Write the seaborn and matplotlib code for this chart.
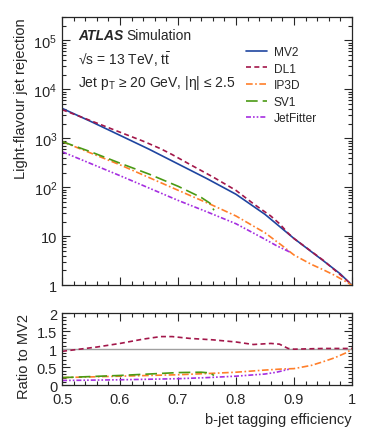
import matplotlib

matplotlib.use("Agg")
import matplotlib.pyplot as plt
import matplotlib.ticker as mticker
import numpy as np
import pandas as pd
import seaborn as sns

# light-jet rejection of the reference tagger
mv2_eff = [0.5, 0.55, 0.6, 0.65, 0.7, 0.75, 0.8, 0.85, 0.9, 0.95, 0.98, 1.0]
mv2_rej = [4100, 2200, 1150, 600, 300, 150, 72, 28, 9.0, 3.2, 1.7, 1.0]

# ratios to MV2
dl1_eff = [0.5, 0.53, 0.56, 0.6, 0.64, 0.67, 0.69, 0.72, 0.76, 0.8, 0.83, 0.86, 0.875, 0.89, 0.9, 0.95, 1.0]
dl1_ratio = [0.94, 1.0, 1.06, 1.16, 1.28, 1.35, 1.35, 1.30, 1.26, 1.2, 1.13, 1.16, 1.14, 1.02, 1.0, 1.02, 1.02]

ip3d_eff = [0.5, 0.6, 0.7, 0.76, 0.8, 0.85, 0.88, 0.9, 0.93, 0.95, 0.97, 0.99, 1.0]
ip3d_ratio = [0.21, 0.25, 0.29, 0.33, 0.36, 0.42, 0.45, 0.46, 0.55, 0.65, 0.76, 0.9, 1.0]

sv1_eff = [0.5, 0.55, 0.6, 0.65, 0.7, 0.74, 0.755, 0.762]
sv1_ratio = [0.21, 0.24, 0.27, 0.31, 0.35, 0.36, 0.34, 0.27]

jf_eff = [0.5, 0.6, 0.7, 0.75, 0.8, 0.85, 0.87, 0.893]
jf_ratio = [0.13, 0.15, 0.18, 0.21, 0.25, 0.31, 0.36, 0.45]

taggers = ["MV2", "DL1", "IP3D", "SV1", "JetFitter"]
colors = {"MV2": "#1f45a0", "DL1": "#a3174a", "IP3D": "#ff7f2a", "SV1": "#4a9a14", "JetFitter": "#a52ee0"}
dashes = {"MV2": "", "DL1": (3, 2), "IP3D": (4, 1.5, 1, 1.5), "SV1": (7, 3), "JetFitter": (3, 1.2, 1, 1.2, 1, 1.2)}


def mv2_at(x):
    # MV2 rejection at other efficiencies, interpolated in log space
    logs = np.interp(x, mv2_eff, np.log10(mv2_rej))
    return 10 ** logs


frames = [pd.DataFrame({"tagger": "MV2", "eff": mv2_eff, "ratio": [1.0] * len(mv2_eff), "rej": mv2_rej})]
for name, eff, ratio in [("DL1", dl1_eff, dl1_ratio), ("IP3D", ip3d_eff, ip3d_ratio),
                         ("SV1", sv1_eff, sv1_ratio), ("JetFitter", jf_eff, jf_ratio)]:
    df = pd.DataFrame({"tagger": name, "eff": eff, "ratio": ratio})
    df["rej"] = mv2_at(eff) * df["ratio"]
    frames.append(df)
data = pd.concat(frames, ignore_index=True)

sns.set_style("ticks")
plt.rcParams["font.family"] = ["Liberation Sans", "DejaVu Sans"]
plt.rcParams["mathtext.fontset"] = "custom"
plt.rcParams["mathtext.rm"] = "Liberation Sans"
plt.rcParams["mathtext.it"] = "Liberation Sans:italic"

fig = plt.figure(figsize=(3.74, 4.31), dpi=100)
ax = fig.add_axes([0.166, 0.336, 0.775, 0.622])
rax = fig.add_axes([0.166, 0.104, 0.775, 0.167])

sns.lineplot(data=data, x="eff", y="rej", hue="tagger", style="tagger", hue_order=taggers,
             style_order=taggers, palette=colors, dashes=dashes, estimator=None, sort=False,
             linewidth=1.2, ax=ax)
rax.axhline(1.0, color="#a0a0a0", linewidth=1.0)
sub = data[data["tagger"] != "MV2"]
sns.lineplot(data=sub, x="eff", y="ratio", hue="tagger", style="tagger", hue_order=taggers[1:],
             style_order=taggers[1:], palette=colors, dashes=dashes, estimator=None, sort=False,
             linewidth=1.2, legend=False, ax=rax)

ax.set_yscale("log")
ax.set_ylim(1, 3e5)
for a in (ax, rax):
    a.set_xlim(0.5, 1.0)
    a.xaxis.set_major_locator(mticker.MultipleLocator(0.1))
    a.xaxis.set_minor_locator(mticker.MultipleLocator(0.02))
    a.tick_params(which="both", direction="in", top=True, right=True, labelsize=10.5, width=0.8)
    a.tick_params(which="major", length=5.5)
    a.tick_params(which="minor", length=3)
    for sp in a.spines.values():
        sp.set_linewidth(0.9)

ax.yaxis.set_minor_locator(mticker.LogLocator(base=10, subs=range(2, 10), numticks=20))
ax.yaxis.set_minor_formatter(mticker.NullFormatter())
ax.set_yticks([1, 10, 1e2, 1e3, 1e4, 1e5])
ax.set_yticklabels(["1", "10", "$10^2$", "$10^3$", "$10^4$", "$10^5$"])
ax.tick_params(axis="x", labelbottom=False)
ax.set_xlabel("")
ax.set_ylabel("Light-flavour jet rejection", fontsize=10.5, loc="top")

rax.set_ylim(0, 2)
rax.yaxis.set_major_locator(mticker.MultipleLocator(0.5))
rax.yaxis.set_minor_locator(mticker.MultipleLocator(0.1))
rax.yaxis.set_major_formatter(mticker.FuncFormatter(lambda v, p: f"{v:g}"))
rax.xaxis.set_major_formatter(mticker.FuncFormatter(lambda v, p: f"{v:g}"))
rax.tick_params(axis="x", pad=5)
rax.set_xlabel("b-jet tagging efficiency", fontsize=10.5, loc="right")
rax.set_ylabel("Ratio to MV2", fontsize=10.5, loc="top")

handles, labels = ax.get_legend_handles_labels()
ax.legend(handles, labels, loc="upper left", bbox_to_anchor=(0.615, 0.914), frameon=False,
          fontsize=8.6, handlelength=1.7, handletextpad=0.6, labelspacing=0.38, borderpad=0)

ax.text(0.055, 0.935, "ATLAS", transform=ax.transAxes, fontsize=10, fontweight="bold",
        fontstyle="italic", va="center")
ax.text(0.22, 0.935, "Simulation", transform=ax.transAxes, fontsize=10, va="center")
ax.text(0.055, 0.845, r"√s = 13 TeV, $\mathrm{t\bar{t}}$", transform=ax.transAxes,
        fontsize=10, va="center")
ax.text(0.055, 0.757, r"Jet p$_\mathrm{T}$ ≥ 20 GeV, |η| ≤ 2.5", transform=ax.transAxes,
        fontsize=10, va="center")

fig.savefig("out.png", dpi=100)
